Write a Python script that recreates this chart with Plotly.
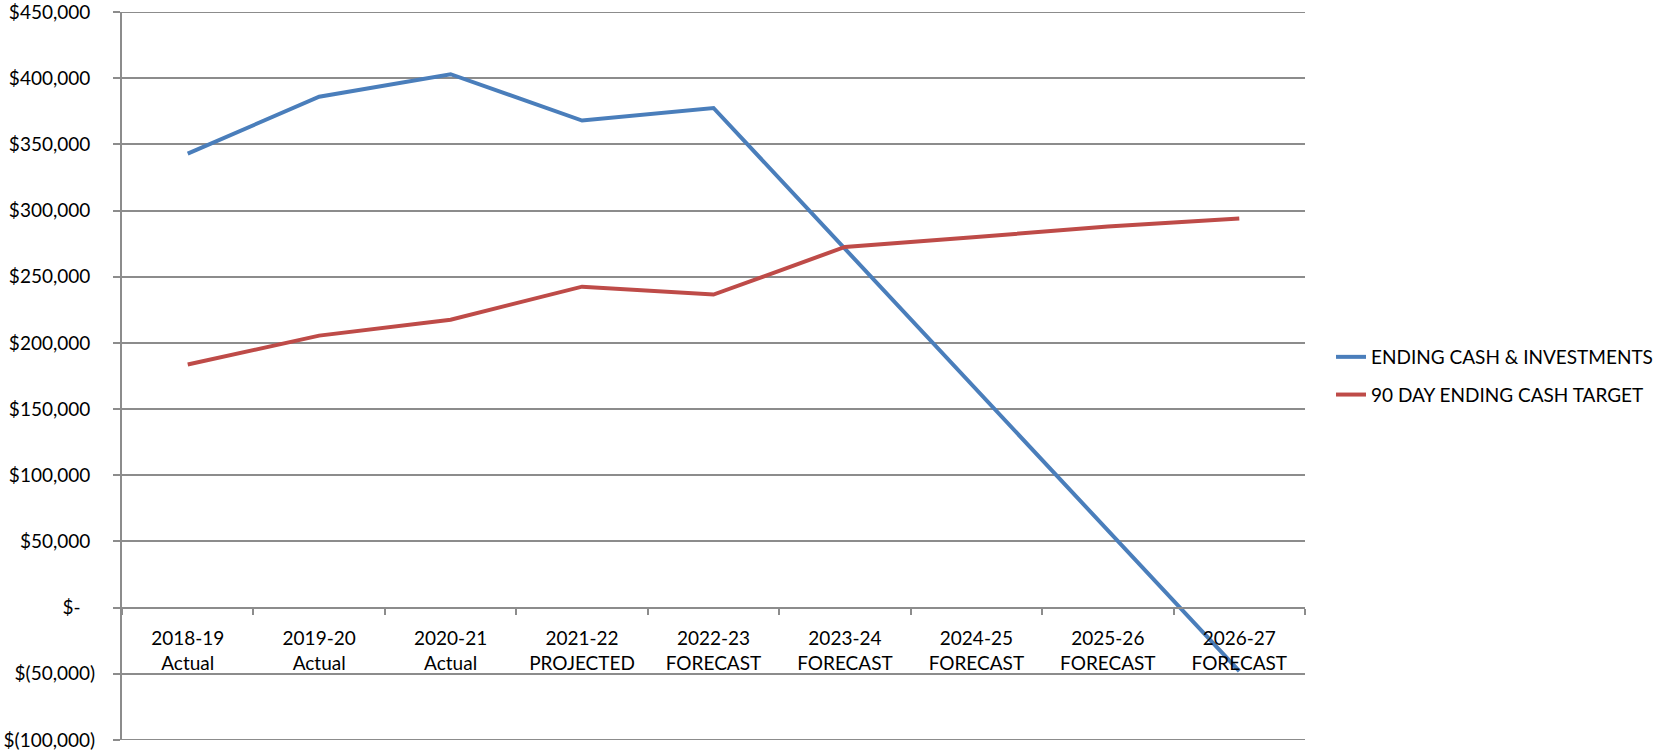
import plotly.graph_objects as go

years = ["2018-19", "2019-20", "2020-21", "2021-22", "2022-23", "2023-24", "2024-25", "2025-26", "2026-27"]
kinds = ["Actual", "Actual", "Actual", "PROJECTED", "FORECAST", "FORECAST", "FORECAST", "FORECAST", "FORECAST"]
ending_cash = [343000, 386000, 403000, 368000, 377500, 271000, 164000, 58000, -48000]
cash_target = [183700, 205500, 217500, 242500, 236500, 272500, 280000, 288000, 294000]
y_tick_vals = [450000, 400000, 350000, 300000, 250000, 200000, 150000, 100000, 50000, 0, -50000, -100000]
y_tick_text = ["$450,000", "$400,000", "$350,000", "$300,000", "$250,000", "$200,000", "$150,000",
               "$100,000", "$50,000", "$-", "$(50,000)", "$(100,000)"]

cats = [f"{y}<br>{k}" for y, k in zip(years, kinds)]

def pad(t):
    if t == "$-":
        return t + "\u00a0\u00a0\u00a0"
    if t.endswith(")"):
        return t
    return t + "\u00a0"

FONT = "Lato"
GRID = "#8c8c8c"

fig = go.Figure()
fig.add_trace(go.Scatter(x=cats, y=ending_cash, mode="lines", name="ENDING CASH & INVESTMENTS",
                         line=dict(color="#4A7EBB", width=4), legendgroup="a"))
fig.add_trace(go.Scatter(x=cats, y=cash_target, mode="lines", name="90 DAY ENDING CASH TARGET",
                         line=dict(color="#BE4B48", width=4), legendgroup="b"))

# gridlines at the two range edges (plotly omits them)
for v in (max(y_tick_vals), min(y_tick_vals)):
    fig.add_shape(type="line", xref="paper", yref="y", x0=0, x1=1, y0=v, y1=v,
                  line=dict(color=GRID, width=2), layer="below")

fig.update_layout(
    width=1657, height=752,
    margin=dict(l=122, r=352, t=12, b=12, autoexpand=False),
    paper_bgcolor="white", plot_bgcolor="white",
    font=dict(family=FONT, size=19, color="#000000"),
    showlegend=True,
    legend=dict(x=1.022, xanchor="left", y=0.5, yanchor="middle",
                font=dict(family=FONT, size=19, color="#000000"),
                tracegroupgap=10, traceorder="grouped", bgcolor="rgba(0,0,0,0)"),
    xaxis=dict(
        type="category", range=[-0.5, 8.5],
        anchor="free", position=100000 / 550000,
        showline=True, linecolor=GRID, linewidth=2,
        ticks="outside", tickson="boundaries", ticklen=6, tickcolor=GRID, tickwidth=2,
        showgrid=False, zeroline=False, automargin=False,
        tickfont=dict(family=FONT, size=19, color="#000000"),
        ticklabelstandoff=14,
    ),
    yaxis=dict(
        range=[-100000, 450000],
        tickvals=y_tick_vals, ticktext=[pad(t) for t in y_tick_text],
        showgrid=True, gridcolor=GRID, gridwidth=2,
        showline=True, linecolor=GRID, linewidth=2,
        ticks="outside", ticklen=7, tickcolor=GRID, tickwidth=2,
        zeroline=False, automargin=False, ticklabeloverflow="allow",
        tickfont=dict(family=FONT, size=19, color="#000000"),
        ticklabelstandoff=14,
    ),
)

fig.write_html("out.html", config={"displayModeBar": False},
               post_script="document.body.style.margin='0px';")
